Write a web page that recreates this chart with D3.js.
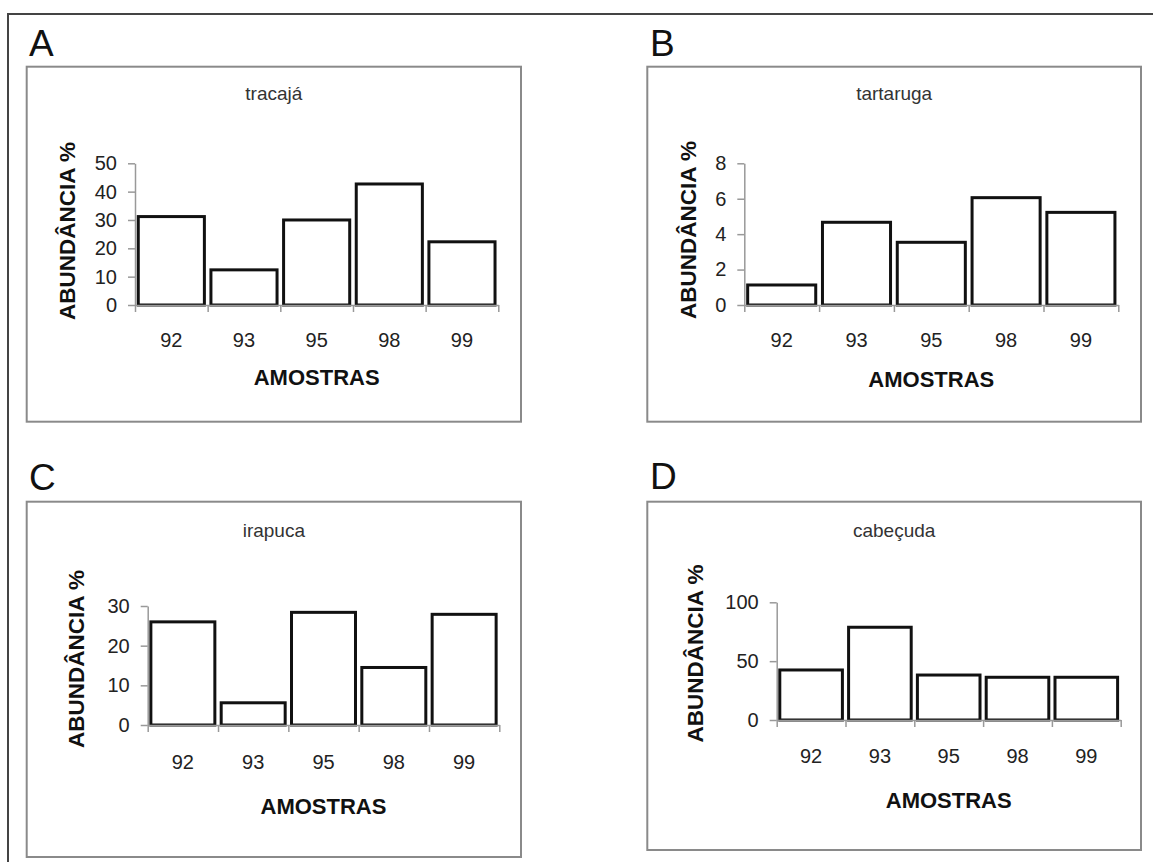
<!DOCTYPE html>
<html>
<head>
<meta charset="utf-8">
<script src="https://cdn.jsdelivr.net/npm/d3@7"></script>
<style>
  body { margin: 0; background: #fff; }
  svg text { font-family: "Liberation Sans", Arial, sans-serif; }
</style>
</head>
<body>
<svg id="chart" width="1153" height="862"></svg>
<script>
// data
var years = ["92", "93", "95", "98", "99"];
var tracaja = [31.2, 12.4, 30.0, 42.7, 22.3];
var tartaruga = [1.13, 4.67, 3.54, 6.06, 5.23];
var irapuca = [26.0, 5.6, 28.4, 14.5, 27.9];
var cabecuda = [42.5, 78.8, 38.2, 36.3, 36.3];
var panelLetters = ["A", "B", "C", "D"];
var speciesNames = ["tracajá", "tartaruga", "irapuca", "cabeçuda"];
var yTicksA = [0, 10, 20, 30, 40, 50];
var yTicksB = [0, 2, 4, 6, 8];
var yTicksC = [0, 10, 20, 30];
var yTicksD = [0, 50, 100];
var xTitle = "AMOSTRAS";
var yTitle = "ABUNDÂNCIA %";

// layout of each panel (box, plot area, text positions)
var layout = [
    {box: [26.7, 66.7, 521, 421.7], plot: [135, 498.3, 305, 163.3], letter: [29, 55.7], titleY: 100,
     tickY: 346.7, xTitleY: 385, yTitleX: 75, yTitleY: 231},
    {box: [647.3, 66.7, 1141, 421.7], plot: [744.3, 1118.3, 305, 163.3], letter: [650, 55.7], titleY: 100,
     tickY: 346.7, xTitleY: 386.7, yTitleX: 696, yTitleY: 230},
    {box: [26.7, 501.7, 521, 857], plot: [147.7, 499.3, 725, 606], letter: [29, 490], titleY: 537,
     tickY: 769.3, xTitleY: 814, yTitleX: 84, yTitleY: 659},
    {box: [647.3, 501.7, 1141, 850], plot: [776.7, 1120.7, 720, 602.3], letter: [650, 489.3], titleY: 537,
     tickY: 763.3, xTitleY: 807.7, yTitleX: 703, yTitleY: 653.5}
];

var values = [tracaja, tartaruga, irapuca, cabecuda];
var yTicks = [yTicksA, yTicksB, yTicksC, yTicksD];

var svg = d3.select("#chart");

// outer frame (top and left only)
svg.append("path")
    .attr("d", "M8,862 L8,14 L1153,14")
    .attr("fill", "none")
    .attr("stroke", "#444")
    .attr("stroke-width", 2);

layout.forEach(function (L, i) {
    var g = svg.append("g").attr("class", "panel");
    var data = values[i];
    var ticks = yTicks[i];

    g.append("text")
        .attr("x", L.letter[0])
        .attr("y", L.letter[1])
        .attr("font-size", 37)
        .attr("fill", "#111")
        .text(panelLetters[i]);

    g.append("rect")
        .attr("x", L.box[0])
        .attr("y", L.box[1])
        .attr("width", L.box[2] - L.box[0])
        .attr("height", L.box[3] - L.box[1])
        .attr("fill", "none")
        .attr("stroke", "#8a8a8a")
        .attr("stroke-width", 2);

    g.append("text")
        .attr("x", (L.box[0] + L.box[2]) / 2)
        .attr("y", L.titleY)
        .attr("text-anchor", "middle")
        .attr("font-size", 19)
        .attr("fill", "#333")
        .text(speciesNames[i]);

    var y = d3.scaleLinear()
        .domain([0, ticks[ticks.length - 1]])
        .range([L.plot[2], L.plot[3]]);
    var xBand = d3.scaleBand()
        .domain(years)
        .range([L.plot[0], L.plot[1]])
        .paddingInner(0.09)
        .paddingOuter(0.045);
    var xEdge = d3.scaleLinear()
        .domain([0, years.length])
        .range([L.plot[0], L.plot[1]]);

    // y axis
    var yAxis = g.append("g")
        .attr("transform", "translate(" + L.plot[0] + ",0)")
        .call(d3.axisLeft(y).tickValues(ticks).tickSize(7).tickSizeOuter(0).tickPadding(11));
    yAxis.selectAll("path, line").attr("stroke", "#999").attr("stroke-width", 1.5);
    yAxis.selectAll("text")
        .attr("font-size", 20)
        .attr("fill", "#222")
        .attr("font-family", "Liberation Sans, Arial, sans-serif");

    // bars
    g.selectAll("rect.bar")
        .data(data)
        .enter()
        .append("rect")
        .attr("class", "bar")
        .attr("x", function (d, k) { return xBand(years[k]); })
        .attr("y", function (d) { return y(d); })
        .attr("width", xBand.bandwidth())
        .attr("height", function (d) { return y(0) - y(d); })
        .attr("fill", "#fff")
        .attr("stroke", "#111")
        .attr("stroke-width", 3);

    // x axis with ticks at category boundaries
    var xAxis = g.append("g")
        .attr("transform", "translate(0," + L.plot[2] + ")")
        .call(d3.axisBottom(xEdge).tickValues(d3.range(years.length + 1)).tickFormat("").tickSize(7).tickSizeOuter(0));
    xAxis.selectAll("path, line").attr("stroke", "#999").attr("stroke-width", 1.5);

    g.selectAll("text.xlab")
        .data(years)
        .enter()
        .append("text")
        .attr("class", "xlab")
        .attr("x", function (d) { return xBand(d) + xBand.bandwidth() / 2; })
        .attr("y", L.tickY)
        .attr("text-anchor", "middle")
        .attr("font-size", 20)
        .attr("fill", "#222")
        .text(function (d) { return d; });

    g.append("text")
        .attr("x", (L.plot[0] + L.plot[1]) / 2)
        .attr("y", L.xTitleY)
        .attr("text-anchor", "middle")
        .attr("font-size", 22)
        .attr("font-weight", "bold")
        .attr("fill", "#111")
        .text(xTitle);

    g.append("text")
        .attr("transform", "translate(" + L.yTitleX + "," + L.yTitleY + ") rotate(-90)")
        .attr("text-anchor", "middle")
        .attr("font-size", 22.5)
        .attr("font-weight", "bold")
        .attr("fill", "#111")
        .text(yTitle);
});
</script>
</body>
</html>
